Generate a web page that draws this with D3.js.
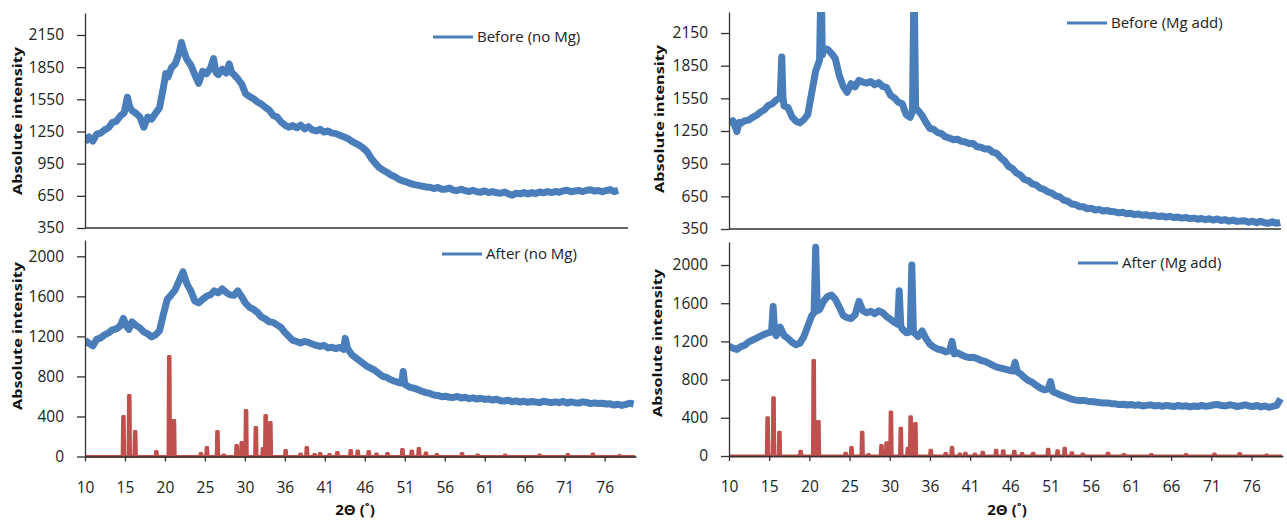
<!DOCTYPE html>
<html lang="en">
<head>
<meta charset="UTF-8">
<title>XRD patterns before / after</title>
<script src="https://d3js.org/d3.v7.min.js"></script>
<style>
    body { margin: 0; background: #fff; }
    svg { display: block; }
    .tick text { font-family: "Open Sans", sans-serif; font-size: 15.5px; fill: #222; }
    .axis path, .axis line { stroke: #333; stroke-width: 1.3px; }
    .legend_text { font-family: "Open Sans", sans-serif; font-size: 15px; fill: #222; }
    .ytitle { font-family: "Open Sans", sans-serif; font-size: 13px; font-weight: bold; fill: #111; }
    .xtitle { font-family: "Open Sans", sans-serif; font-size: 15px; font-weight: bold; fill: #111; }
</style>
</head>
<body>
<svg width="1287" height="523"></svg>

<script>
    // x axis (category axis in the original, labels every 5.1 deg)
    const xTickValues = [10, 15.1, 20.2, 25.3, 30.4, 35.5, 40.6, 45.7, 50.8, 55.9, 61.0, 66.1, 71.2, 76.3];
    const xTickLabels = ["10", "15", "20", "25", "30", "36", "41", "46", "51", "56", "61", "66", "71", "76"];
    const topTicks = [350, 650, 950, 1250, 1550, 1850, 2150];
    const bottomTicks = [0, 400, 800, 1200, 1600, 2000];

    // [2theta, intensity]
    const beforeNoMg = [[10,1150],[10.5,1200],[11,1160],[11.5,1225],[12,1235],[12.5,1265],[13,1285],[13.5,1335],[14,1345],[14.5,1395],
        [15,1425],[15.4,1570],[15.7,1480],[16,1445],[16.5,1420],[17,1385],[17.5,1290],[18,1385],[18.5,1365],[19,1420],[19.5,1470],
        [20,1660],[20.3,1790],[20.6,1760],[21,1840],[21.5,1880],[22,1980],[22.3,2080],[22.6,2000],[23,1920],[23.5,1870],[24,1780],
        [24.5,1700],[25,1810],[25.5,1790],[26,1840],[26.4,1930],[26.7,1800],[27,1780],[27.5,1830],[28,1795],[28.4,1880],[28.7,1800],
        [29,1780],[29.5,1740],[30,1690],[30.5,1600],[31,1575],[31.5,1555],[32,1525],[32.5,1505],[33,1475],[33.5,1450],[34,1400],
        [34.5,1385],[35,1340],[35.5,1310],[36,1290],[36.5,1305],[37,1285],[37.5,1310],[38,1275],[38.5,1295],[39,1265],[39.5,1255],
        [40,1270],[40.5,1245],[41,1255],[41.5,1235],[42,1230],[42.5,1215],[43,1200],[43.5,1185],[44,1160],[44.5,1140],[45,1120],
        [45.5,1095],[46,1060],[46.5,1000],[47,955],[47.5,915],[48,890],[48.5,870],[49,845],[49.5,830],[50,805],[50.5,790],
        [51,780],[51.5,765],[52,755],[52.5,748],[53,740],[53.5,732],[54,730],[54.5,718],[55,728],[55.5,712],[56,712],[56.5,722],
        [57,702],[57.5,700],[58,712],[58.5,698],[59,690],[59.5,702],[60,688],[60.5,684],[61,696],[61.5,680],[62,690],[62.5,678],
        [63,674],[63.5,686],[64,668],[64.5,655],[65,675],[65.5,668],[66,680],[66.5,668],[67,680],[67.5,672],[68,686],[68.5,678],
        [69,690],[69.5,680],[70,690],[70.5,684],[71,696],[71.5,702],[72,688],[72.5,696],[73,700],[73.5,690],[74,702],[74.5,706],
        [75,694],[75.5,700],[76,688],[76.5,700],[77,708],[77.5,690],[78,700]];

    const beforeMgAdd = [[10,1320],[10.5,1345],[11,1245],[11.3,1330],[11.5,1320],[12,1345],[12.5,1350],[13,1375],[13.5,1395],[14,1425],
        [14.5,1445],[15,1485],[15.5,1500],[16,1535],[16.5,1555],[16.7,1930],[16.85,1560],[17,1480],[17.5,1465],[18,1380],[18.5,1340],
        [19,1325],[19.5,1355],[20,1400],[20.5,1600],[21,1800],[21.5,1900],[21.7,2700],[21.85,1950],[22,2010],[22.5,2000],[23,1965],
        [23.5,1915],[24,1760],[24.5,1660],[25,1605],[25.5,1685],[26,1655],[26.5,1715],[27,1700],[27.5,1690],[28,1705],[28.5,1675],
        [29,1695],[29.5,1660],[30,1650],[30.5,1580],[31,1555],[31.5,1515],[32,1500],[32.5,1400],[33,1375],[33.3,1430],[33.5,2700],
        [33.7,1460],[34,1440],[34.5,1395],[35,1330],[35.5,1275],[36,1265],[36.5,1235],[37,1225],[37.5,1195],[38,1185],[38.5,1170],
        [39,1175],[39.5,1155],[40,1150],[40.5,1135],[41,1135],[41.5,1105],[42,1100],[42.5,1085],[43,1085],[43.5,1055],[44,1045],
        [44.5,1005],[45,975],[45.5,925],[46,905],[46.5,865],[47,845],[47.5,805],[48,795],[48.5,765],[49,755],[49.5,725],[50,715],
        [50.5,690],[51,680],[51.5,655],[52,645],[52.5,615],[53,605],[53.5,580],[54,575],[54.5,555],[55,555],[55.5,535],[56,540],
        [56.5,525],[57,530],[57.5,515],[58,520],[58.5,510],[59,508],[59.5,498],[60,504],[60.5,490],[61,494],[61.5,482],[62,488],
        [62.5,476],[63,480],[63.5,470],[64,476],[64.5,465],[65,470],[65.5,460],[66,466],[66.5,455],[67,460],[67.5,450],[68,456],
        [68.5,445],[69,450],[69.5,440],[70,446],[70.5,436],[71,444],[71.5,432],[72,442],[72.5,428],[73,436],[73.5,422],[74,432],
        [74.5,420],[75,424],[75.5,426],[76,412],[76.5,422],[77,408],[77.5,420],[78,408],[78.5,402],[79,416],[79.5,402],[80,410]];

    const afterNoMg = [[10,1160],[10.5,1130],[11,1105],[11.5,1170],[12,1185],[12.5,1215],[13,1235],[13.5,1265],[14,1275],[14.5,1305],
        [14.9,1380],[15.3,1300],[15.6,1270],[16,1345],[16.5,1310],[17,1285],[17.5,1245],[18,1225],[18.5,1195],[19,1215],[19.5,1255],
        [20,1420],[20.5,1570],[21,1615],[21.5,1665],[22,1755],[22.5,1845],[23,1725],[23.5,1655],[24,1555],[24.5,1535],[25,1570],
        [25.5,1600],[26,1615],[26.5,1655],[27,1635],[27.5,1675],[28,1640],[28.5,1615],[29,1610],[29.5,1655],[30,1595],[30.5,1530],
        [31,1490],[31.5,1470],[32,1440],[32.5,1395],[33,1375],[33.5,1345],[34,1340],[34.5,1315],[35,1290],[35.5,1240],[36,1200],
        [36.5,1160],[37,1150],[37.5,1135],[38,1150],[38.5,1140],[39,1125],[39.5,1110],[40,1100],[40.5,1110],[41,1085],[41.5,1092],
        [42,1078],[42.5,1090],[43,1070],[43.2,1180],[43.5,1080],[44,1020],[44.5,990],[45,960],[45.5,930],[46,900],[46.5,880],
        [47,860],[47.5,830],[48,800],[48.5,790],[49,768],[49.5,752],[50,740],[50.4,735],[50.6,850],[50.8,720],[51,712],[51.5,690],
        [52,682],[52.5,668],[53,652],[53.5,638],[54,630],[54.5,615],[55,610],[55.5,598],[56,602],[56.5,592],[57,590],[57.5,600],
        [58,584],[58.5,592],[59,578],[59.5,586],[60,574],[60.5,582],[61,570],[61.5,576],[62,564],[62.5,572],[63,558],[63.5,554],
        [64,562],[64.5,548],[65,556],[65.5,544],[66,552],[66.5,540],[67,550],[67.5,544],[68,538],[68.5,552],[69,544],[69.5,538],
        [70,546],[70.5,538],[71,550],[71.5,534],[72,546],[72.5,538],[73,534],[73.5,546],[74,540],[74.5,528],[75,536],[75.5,530],
        [76,532],[76.5,524],[77,526],[77.5,514],[78,522],[78.5,510],[79,520],[79.5,532],[80,525]];

    const afterMgAdd = [[10,1150],[10.5,1130],[11,1115],[11.5,1145],[12,1160],[12.5,1195],[13,1215],[13.5,1235],[14,1255],[14.5,1275],
        [15,1290],[15.4,1300],[15.6,1565],[15.8,1300],[16,1260],[16.5,1350],[17,1260],[17.5,1230],[18,1190],[18.5,1165],[19,1180],
        [19.5,1250],[20,1360],[20.5,1470],[20.8,1500],[21,2185],[21.2,1520],[21.5,1535],[22,1620],[22.5,1670],[23,1685],[23.5,1640],
        [24,1560],[24.5,1470],[25,1450],[25.5,1440],[26,1480],[26.5,1620],[27,1520],[27.5,1500],[28,1515],[28.5,1490],[29,1520],
        [29.5,1500],[30,1460],[30.5,1430],[31,1400],[31.4,1380],[31.6,1730],[31.8,1360],[32,1330],[32.5,1290],[33,1300],[33.2,2000],
        [33.4,1300],[34,1250],[34.5,1310],[35,1230],[35.5,1170],[36,1140],[36.5,1120],[37,1110],[37.5,1090],[38,1100],[38.3,1200],
        [38.6,1070],[39,1080],[39.5,1060],[40,1040],[40.5,1030],[41,1035],[41.5,1020],[42,1000],[42.5,990],[43,970],[43.5,950],
        [44,930],[44.5,920],[45,910],[45.5,900],[46,890],[46.3,980],[46.6,880],[47,860],[47.5,820],[48,790],[48.5,770],[49,740],
        [49.5,712],[50,692],[50.5,700],[50.8,780],[51.1,672],[51.5,660],[52,640],[52.5,625],[53,610],[53.5,595],[54,585],[54.5,580],
        [55,582],[55.5,574],[56,570],[56.5,566],[57,560],[57.5,555],[58,556],[58.5,548],[59,546],[59.5,538],[60,542],[60.5,534],
        [61,540],[61.5,530],[62,536],[62.5,524],[63,530],[63.5,536],[64,524],[64.5,530],[65,520],[65.5,530],[66,524],[66.5,518],
        [67,530],[67.5,520],[68,526],[68.5,514],[69,524],[69.5,518],[70,530],[70.5,520],[71,526],[71.5,536],[72,540],[72.5,528],
        [73,524],[73.5,536],[74,530],[74.5,518],[75,526],[75.5,536],[76,524],[76.5,518],[77,530],[77.5,514],[78,524],[78.5,510],
        [79,520],[79.5,530],[80,600]];

    // reference pattern (red sticks), same in both lower panels
    const stickPos = [14.9, 15.65, 16.4, 19.1, 20.75, 21.35, 24.8, 25.55, 26.9, 27.7, 29.35, 30.0, 30.55, 31.8, 32.7, 33.05, 33.65,
        35.6, 37.5, 38.3, 39.3, 40.0, 41.2, 42.2, 43.9, 44.8, 46.2, 47.2, 48.6, 50.5, 51.7, 52.6, 53.5, 54.9, 58.1, 60.1, 63.6,
        68.0, 71.6, 74.8, 78.2];
    const stickInt = [400, 610, 250, 50, 1000, 360, 30, 90, 250, 15, 110, 140, 460, 290, 80, 410, 340,
        60, 25, 90, 20, 30, 20, 40, 60, 55, 50, 25, 30, 70, 55, 80, 35, 20, 30, 15, 15,
        15, 20, 25, 10];

    const blue = "#4a7ebb", red = "#c0504d";
    let svg = d3.select("svg");

    const panels = [
        {id: "tl", data: beforeNoMg, name: "Before (no Mg)", ticks: topTicks, yDom: [350, 2355], xMax: 79.26,
            left: 85, right: 628, top: 13, bottom: 228, legend: [433, 37], titleX: 22, titleY: 121, lower: false},
        {id: "tr", data: beforeMgAdd, name: "Before (Mg add)", ticks: topTicks, yDom: [350, 2343], xMax: 80.1,
            left: 729, right: 1281, top: 12, bottom: 229, legend: [1067, 23], titleX: 664, titleY: 119, lower: false},
        {id: "bl", data: afterNoMg, name: "After (no Mg)", ticks: bottomTicks, yDom: [0, 2163], xMax: 80.3,
            left: 85, right: 636, top: 240, bottom: 456.5, legend: [442, 254], titleX: 22, titleY: 336, lower: true, xTitle: 355},
        {id: "br", data: afterMgAdd, name: "After (Mg add)", ticks: bottomTicks, yDom: [0, 2241], xMax: 80.3,
            left: 729, right: 1283, top: 242, bottom: 456, legend: [1078, 263], titleX: 662, titleY: 343, lower: true, xTitle: 1007}
    ];

    panels.forEach(function (p) {
        let x = d3.scaleLinear().domain([10, p.xMax]).range([p.left, p.right]);
        let y = d3.scaleLinear().domain(p.yDom).range([p.bottom, p.top]);
        let g = svg.append("g");

        g.append("clipPath").attr("id", "clip-" + p.id)
            .append("rect").attr("x", p.left).attr("y", p.top)
            .attr("width", p.right - p.left + 6).attr("height", p.bottom - p.top);

        let line = d3.line().x(d => x(d[0])).y(d => y(d[1]));

        // reference sticks
        if (p.lower) {
            let pts = [[10, 0]];
            stickPos.forEach(function (s, i) {
                pts.push([s - 0.16, 0], [s - 0.1, stickInt[i]], [s + 0.1, stickInt[i]], [s + 0.16, 0]);
            });
            pts.push([p.xMax - 0.1, 0]);
            g.append("path").attr("d", line(pts))
                .attr("fill", "none").attr("stroke", red)
                .attr("stroke-width", 3).attr("stroke-linejoin", "round");
        }

        g.append("path").attr("d", line(p.data))
            .attr("clip-path", "url(#clip-" + p.id + ")")
            .attr("fill", "none").attr("stroke", blue)
            .attr("stroke-width", 7).attr("stroke-linejoin", "round");

        // y axis
        g.append("g").attr("class", "axis")
            .attr("transform", "translate(" + p.left + ",0)")
            .call(d3.axisLeft(y).tickValues(p.ticks).tickFormat(d3.format("d"))
                .tickSize(8).tickSizeOuter(0).tickPadding(13));

        // x axis
        if (p.lower) {
            g.append("g").attr("class", "axis")
                .attr("transform", "translate(0," + p.bottom + ")")
                .call(d3.axisBottom(x).tickValues(xTickValues)
                    .tickFormat((d, i) => xTickLabels[i])
                    .tickSize(5).tickSizeOuter(0).tickPadding(20));
            g.append("text").attr("class", "xtitle")
                .attr("x", p.xTitle).attr("y", 515).attr("text-anchor", "middle")
                .text("2\u0398 (\u02da)");
        } else {
            g.append("line").attr("x1", p.left).attr("x2", p.right)
                .attr("y1", p.bottom).attr("y2", p.bottom)
                .attr("stroke", "#333").attr("stroke-width", 1.5);
        }

        // y title
        g.append("text").attr("class", "ytitle")
            .attr("transform", "translate(" + p.titleX + "," + p.titleY + ") rotate(-90)")
            .attr("text-anchor", "middle")
            .attr("textLength", 148).attr("lengthAdjust", "spacingAndGlyphs")
            .text("Absolute intensity");

        // legend
        g.append("line").attr("x1", p.legend[0]).attr("x2", p.legend[0] + 40)
            .attr("y1", p.legend[1]).attr("y2", p.legend[1])
            .attr("stroke", blue).attr("stroke-width", 3);
        g.append("text").attr("class", "legend_text")
            .attr("x", p.legend[0] + 44).attr("y", p.legend[1] + 5)
            .text(p.name);
    });
</script>
</body>
</html>
